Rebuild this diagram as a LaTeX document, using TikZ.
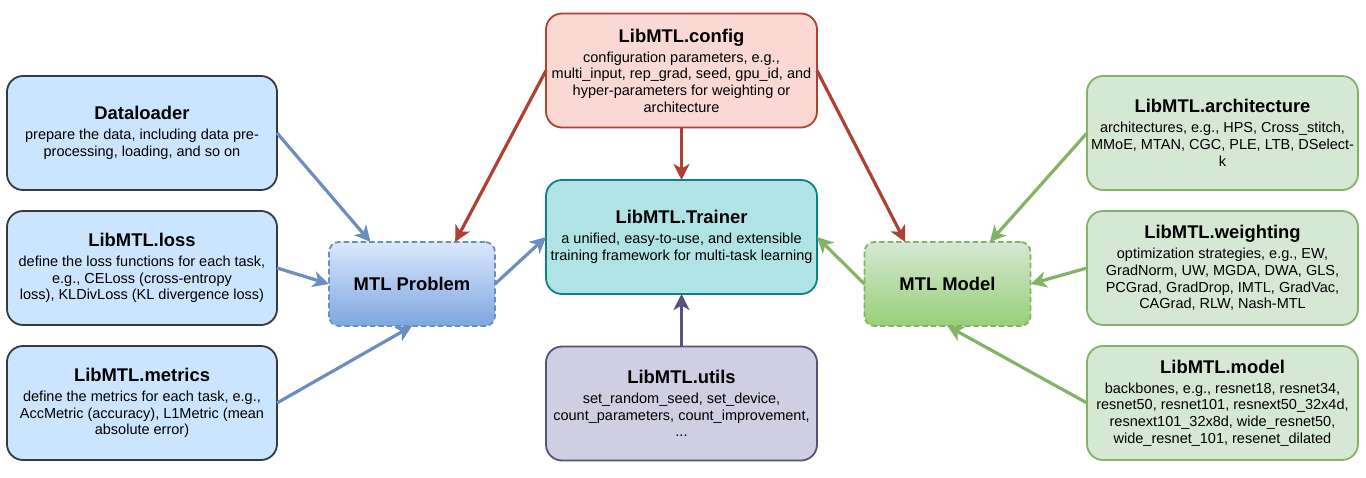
\documentclass[tikz,border=0pt]{standalone}
\usepackage{fontspec}
\setmainfont[Ligatures=CommonOff]{Liberation Sans}
\usetikzlibrary{arrows.meta,calc}
\definecolor{bluefill}{HTML}{CCE5FF}
\definecolor{darkstroke}{HTML}{36393D}
\definecolor{bluearrow}{HTML}{6C8EBF}
\definecolor{bluetop}{HTML}{DAE8FC}
\definecolor{bluebot}{HTML}{7EA6E0}
\definecolor{redfill}{HTML}{FAD9D5}
\definecolor{redstroke}{HTML}{AE4132}
\definecolor{tealfill}{HTML}{B0E3E6}
\definecolor{tealstroke}{HTML}{0E8088}
\definecolor{purplefill}{HTML}{D0CEE2}
\definecolor{purplestroke}{HTML}{56517E}
\definecolor{greenfill}{HTML}{D5E8D4}
\definecolor{greenstroke}{HTML}{82B366}
\definecolor{greenbot}{HTML}{97D077}
\newcommand\boxtitle[1]{{\fontsize{18.4}{20}\selectfont\bfseries #1}\\[3.3pt]}
\tikzset{
  infobox/.style={draw, rounded corners=16pt, line width=1.8pt, inner sep=0pt, outer sep=0pt,
    minimum width=270pt, minimum height=114pt, align=center,
    font=\fontsize{14.5}{16.7}\selectfont},
  bluebox/.style={infobox, fill=bluefill, draw=darkstroke},
  greenbox/.style={infobox, fill=greenfill, draw=greenstroke},
  hubbox/.style={rounded corners=10pt, line width=1.8pt, dash pattern=on 5.5pt off 3pt,
    inner sep=0pt, outer sep=0pt, minimum width=166pt, minimum height=84pt,
    font=\fontsize{18.4}{20}\selectfont\bfseries},
  arr/.style={line width=3.2pt, -{Stealth[length=16pt,width=16pt,inset=4.5pt]}},
}
\begin{document}
\begin{tikzpicture}[x=1pt,y=-1pt]
\useasboundingbox (0,0) rectangle (1366,478);
% left column
\node[bluebox] (dl) at (142,133) {\boxtitle{Dataloader}prepare the data, including data pre-\\processing, loading, and so on};
\node[bluebox] (loss) at (142,268) {\boxtitle{LibMTL.loss}define the loss functions for each task,\\e.g., CELoss (cross-entropy\\loss), KLDivLoss (KL divergence loss)};
\node[bluebox] (met) at (142,403) {\boxtitle{LibMTL.metrics}define the metrics for each task, e.g.,\\AccMetric (accuracy), L1Metric (mean\\absolute error)};
% hubs
\node[hubbox, draw=bluearrow, top color=bluetop, bottom color=bluebot] (prob) at (412,284) {MTL Problem};
\node[hubbox, draw=greenstroke, top color=greenfill, bottom color=greenbot] (model) at (947.5,284) {MTL Model};
% centre column
\node[infobox, fill=redfill, draw=redstroke, minimum width=271pt] (config) at (681.5,70.5) {\boxtitle{LibMTL.config}configuration parameters, e.g.,\\multi\_input, rep\_grad, seed, gpu\_id, and\\hyper-parameters for weighting or\\architecture};
\node[infobox, fill=tealfill, draw=tealstroke, minimum width=271pt] (trainer) at (681.5,237) {\boxtitle{LibMTL.Trainer}a unified, easy-to-use, and extensible\\training framework for multi-task learning};
\node[infobox, fill=purplefill, draw=purplestroke, minimum width=271pt] (utils) at (681.5,403.5) {\boxtitle{LibMTL.utils}set\_random\_seed, set\_device,\\count\_parameters, count\_improvement,\\...};
% right column
\node[greenbox, minimum width=271pt] (arch) at (1222.5,133) {\boxtitle{LibMTL.architecture}architectures, e.g., HPS, Cross\_stitch,\\MMoE, MTAN, CGC, PLE, LTB, DSelect-\\k};
\node[greenbox, minimum width=271pt] (weight) at (1222.5,268) {\boxtitle{LibMTL.weighting}optimization strategies, e.g., EW,\\GradNorm, UW, MGDA, DWA, GLS,\\PCGrad, GradDrop, IMTL, GradVac,\\CAGrad, RLW, Nash-MTL};
\node[greenbox, minimum width=271pt] (bb) at (1222.5,403) {\boxtitle{LibMTL.model}backbones, e.g., resnet18, resnet34,\\resnet50, resnet101, resnext50\_32x4d,\\resnext101\_32x8d, wide\_resnet50,\\wide\_resnet\_101, resenet\_dilated};
% connectors
\draw[arr, bluearrow] (dl.east) -- ($(prob.north west)!0.25!(prob.north east)$);
\draw[arr, bluearrow] (loss.east) -- (prob.west);
\draw[arr, bluearrow] (met.east) -- (prob.south);
\draw[arr, bluearrow] (prob.east) -- (trainer.west);
\draw[arr, redstroke] (config.west) -- ($(prob.north west)!0.76!(prob.north east)$);
\draw[arr, redstroke] (config.south) -- (trainer.north);
\draw[arr, redstroke] (config.east) -- ($(model.north west)!0.245!(model.north east)$);
\draw[arr, purplestroke] (utils.north) -- (trainer.south);
\draw[arr, greenstroke] (model.west) -- (trainer.east);
\draw[arr, greenstroke] (arch.west) -- ($(model.north west)!0.755!(model.north east)$);
\draw[arr, greenstroke] (weight.west) -- (model.east);
\draw[arr, greenstroke] (bb.west) -- (model.south);
\end{tikzpicture}
\end{document}
